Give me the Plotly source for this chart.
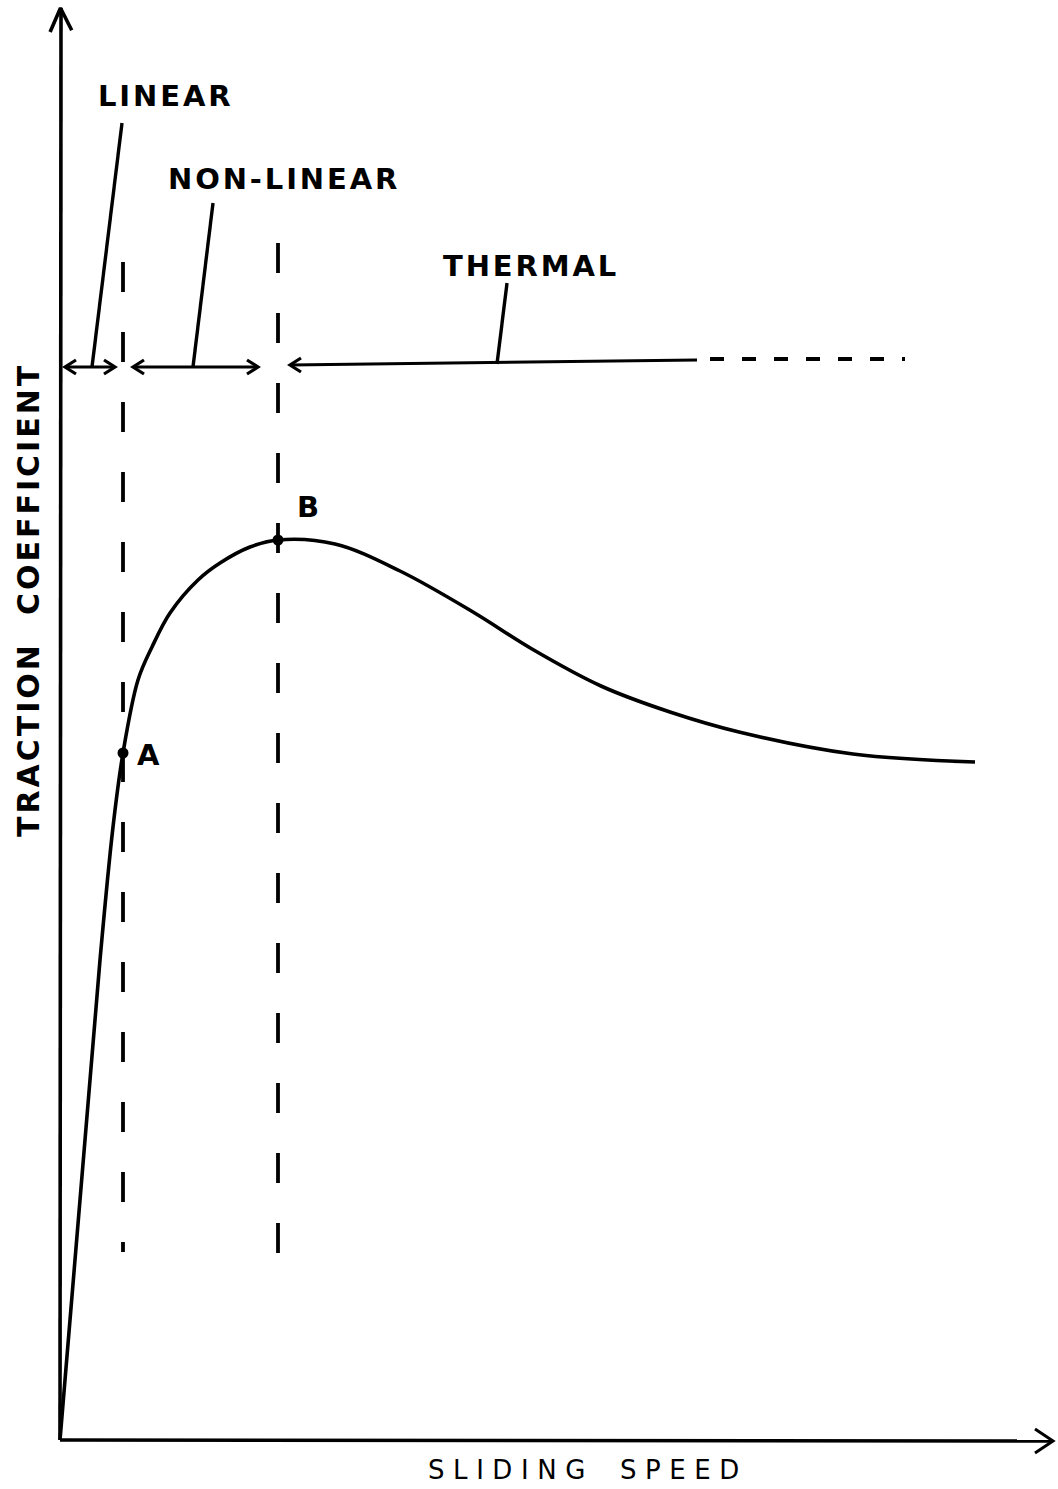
import plotly.graph_objects as go

# Traction curve: sliding speed vs traction coefficient (arbitrary units)
speed = [0.0, 4.0, 5.3, 6.3, 7.8, 9.2, 11.0, 13.8, 16.0, 19.0,
         21.8, 27.5, 34.0, 41.3, 47.2, 54.1, 61.0, 67.9, 79.3, 91.5]
traction = [0.0, 48.0, 61.3, 68.7, 76.0, 79.3, 82.7, 86.0, 87.7, 89.3,
            90.0, 89.6, 86.9, 82.8, 79.1, 75.4, 72.8, 70.8, 68.6, 67.8]

# Regime transition points
point_names = ["A", "B"]
point_speed = [6.3, 21.8]
point_traction = [68.7, 90.0]

# Regime bands along the top (start, end) and their labels
regime_names = ["LINEAR", "NON-LINEAR", "THERMAL"]
regime_start = [0.5, 7.3, 23.0]
regime_end = [5.5, 19.8, 84.5]
regime_solid_end = 63.7     # thermal band continues dashed beyond this
band_level = [107.3, 107.3, 107.6]
# leader lines: label end -> band
leader_top_x = [6.2, 15.3, 44.7]
leader_top_y = [131.7, 123.7, 115.7]
leader_band_x = [3.2, 13.3, 43.7]
label_x = [10.4, 22.2, 46.9]
label_y = [134.4, 126.1, 117.4]

# Axis extents
x_axis_end = 99.3
y_axis_end = 143.2
dash_bottom = [18.8, 17.7]
dash_top = [117.8, 119.7]

INK = "black"
FONT = "DejaVu Sans"
XS = 0.1   # data units per pixel (x)
YS = 0.1   # data units per pixel (y)


def spaced(s, sep="\u200a"):
    return sep.join(list(s))


fig = go.Figure()


def seg(xs, ys, width=3.6, dash="solid"):
    fig.add_trace(go.Scatter(x=xs, y=ys, mode="lines", hoverinfo="skip",
                             line=dict(color=INK, width=width, dash=dash),
                             showlegend=False, cliponaxis=False))


def chevron(tip_x, tip_y, direction, length=12, half=8, width=3.2):
    """Open V arrowhead. direction: 'left', 'right', 'up'."""
    if direction == "right":
        xs = [tip_x - length * XS, tip_x, tip_x - length * XS]
        ys = [tip_y + half * YS, tip_y, tip_y - half * YS]
    elif direction == "left":
        xs = [tip_x + length * XS, tip_x, tip_x + length * XS]
        ys = [tip_y + half * YS, tip_y, tip_y - half * YS]
    else:  # up
        xs = [tip_x - half * 1.3 * XS, tip_x, tip_x + half * 1.4 * XS]
        ys = [tip_y - length * 2.0 * YS, tip_y, tip_y - length * 1.85 * YS]
    seg(xs, ys, width=width)


# Axes with open arrowheads
seg([0, 0.1], [0, y_axis_end], width=3.6)
chevron(0.05, y_axis_end, "up", width=3.6)
seg([0, x_axis_end], [0, -0.1], width=3.4)
chevron(x_axis_end, -0.1, "right", length=18, half=12, width=3.0)

# Vertical dashed boundaries at A and B
for px, b, t in zip(point_speed, dash_bottom, dash_top):
    seg([px, px], [t, b], width=3.8, dash="30px,40px")

# Regime bands with arrowheads: linear and non-linear are double headed
for i in range(2):
    y = band_level[i]
    seg([regime_start[i], regime_end[i]], [y, y], width=3.0)
    chevron(regime_start[i], y, "left", length=11, half=7)
    chevron(regime_end[i], y, "right", length=11, half=7)
# thermal: arrow pointing back to B, open-ended to the right
seg([regime_start[2], regime_solid_end], [band_level[2] - 0.1, band_level[2] + 0.4], width=3.0)
chevron(regime_start[2], band_level[2] - 0.1, "left", length=11, half=7)
seg([regime_solid_end + 1.3, regime_end[2]], [band_level[2] + 0.5, band_level[2] + 0.5],
    width=4.0, dash="14px,18px")

# Leader lines from labels to the bands
for tx, ty, bx, by in zip(leader_top_x, leader_top_y, leader_band_x, band_level):
    seg([tx, bx], [ty, by], width=3.4)

# Traction curve
fig.add_trace(go.Scatter(x=speed, y=traction, mode="lines", hoverinfo="skip",
                         line=dict(color=INK, width=3.6, shape="spline", smoothing=1.0),
                         showlegend=False, cliponaxis=False))

# Transition points
fig.add_trace(go.Scatter(x=point_speed, y=point_traction, mode="markers",
                         marker=dict(color=INK, size=11), hoverinfo="skip",
                         showlegend=False, cliponaxis=False))

label_font = dict(family=FONT, size=29, color=INK, weight="bold")

# Regime labels
for name, lx, ly in zip(regime_names, label_x, label_y):
    fig.add_annotation(x=lx, y=ly, text=spaced(name), showarrow=False, font=label_font)

# Point labels
fig.add_annotation(x=point_speed[0] + 2.5, y=point_traction[0] - 0.2, text=point_names[0],
                   showarrow=False, font=label_font)
fig.add_annotation(x=point_speed[1] + 3.0, y=point_traction[1] + 3.3, text=point_names[1],
                   showarrow=False, font=label_font)

# Axis titles
fig.add_annotation(x=52.3, y=-3.0,
                   text=spaced("SLIDING", "\u2004") + "\u2003\u2004" + spaced("SPEED", "\u2004"),
                   showarrow=False, font=dict(family=FONT, size=26, color=INK))
fig.add_annotation(x=-3.2, y=83.9,
                   text=spaced("TRACTION") + "\u2003" + spaced("COEFFICIENT"),
                   textangle=-90, showarrow=False,
                   font=dict(family=FONT, size=30, color=INK, weight="bold"))

fig.update_layout(
    width=1058, height=1489,
    margin=dict(l=0, r=0, t=0, b=0),
    paper_bgcolor="white", plot_bgcolor="white",
    xaxis=dict(range=[-6.0, 99.8], visible=False, fixedrange=True),
    yaxis=dict(range=[-4.9, 144.0], visible=False, fixedrange=True),
    showlegend=False,
)

fig.write_html("out.html")
